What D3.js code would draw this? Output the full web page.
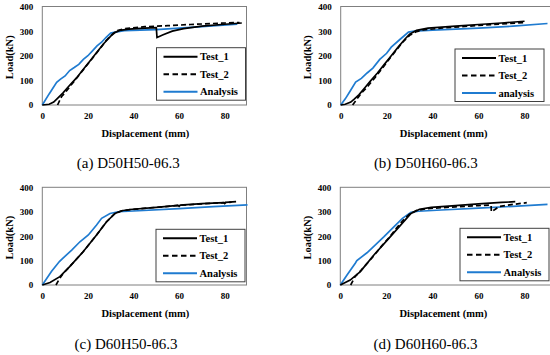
<!DOCTYPE html>
<html>
<head>
<meta charset="utf-8">
<script src="https://cdn.jsdelivr.net/npm/d3@7"></script>
<style>
  body { margin: 0; background: #fff; }
  svg { display: block; }
  .tick text { font-family: "Liberation Serif", "Times New Roman", serif; font-weight: bold; font-size: 9px; fill: #000; }
  .axis-title { font-family: "Liberation Serif", serif; font-weight: bold; font-size: 10.5px; }
  .legend text { font-family: "Liberation Serif", serif; font-weight: bold; font-size: 10.5px; }
  .caption { font-family: "Liberation Serif", serif; font-size: 15px; }
</style>
</head>
<body>
<div id="chart"></div>
<script>
// ticks
var xTicks = [0, 20, 40, 60, 80],
    yTicks = [0, 100, 200, 300, 400];

// (a) D50H50
var aTest1 = [[0,0],[3,3],[5,12],[7,30],[9,48],[12,80],[15,110],[18,145],[21,180],[24,215],[27,250],[30,280],[32,295],[34,303],[38,308],[45,312],[50,314],[50.3,274],[53,285],[57,300],[62,310],[70,320],[80,328],[87.5,333]];
var aTest2 = [[6.7,0],[8.5,35],[10,50],[13,85],[16,120],[19,155],[22,190],[25,225],[28,262],[31,290],[33,302],[36,310],[45,318],[55,322],[65,327],[75,331],[86.5,335]];
var aAnalysis = [[0,0],[3,45],[6.3,92],[8,105],[10,118],[12,140],[14,152],[16,165],[18,185],[20,200],[22,220],[24,240],[26,255],[28,275],[30,292],[32,296],[36,302],[50,306],[60,312],[70,318],[85.5,328]];

// (b) D50H60
var bTest1 = [[0,0],[2,3],[4.4,12],[6,25],[8,42],[10.5,70],[13,98],[16,130],[19,165],[22,200],[25,235],[28,268],[30,288],[33,303],[38,312],[50,320],[60,327],[70,333],[80,340]];
var bTest2 = [[5.2,0],[7.5,30],[9,48],[12,78],[15,112],[18,148],[21,185],[24,220],[27,255],[30,283],[33,298],[36,305],[45,313],[60,323],[70,329],[80,335]];
var bAnalysis = [[0,0],[2,25],[4,55],[6.5,93],[9,108],[11.5,130],[14,150],[17,185],[20,210],[22,235],[26,268],[29.5,296],[32,300],[40,304],[60,312],[75,320],[90,331]];

// (c) D60H50
var cTest1 = [[0,0],[3.4,10],[7.7,34],[12,75],[18,137],[23.8,205],[28.2,259],[31.9,293],[34.8,304],[38.5,309],[50,318],[59.5,326],[60,322],[60.5,327],[70,333],[79.5,337],[80,333],[80.5,338],[85,341]];
var cTest2 = [[6,0],[7.5,25],[9,45],[12,75],[18,137],[23.8,205],[28.2,259],[31.9,293],[35,304],[40,310],[50,318],[60,326],[70,332],[83,339]];
var cAnalysis = [[0,0],[4,55],[7.5,96],[8.5,105],[12.9,143],[16.5,177],[20.2,205],[23.8,246],[26,273],[29.7,293],[33.3,300],[40,303],[60,313],[75,321],[90,328]];

// (d) D60H60
var dTest1 = [[0,0],[4.3,20],[8.7,55],[14.6,123],[20.4,184],[26.3,246],[30.7,293],[34.4,310],[39.5,318],[50,325],[60,332],[70,338],[76,341]];
var dTest2 = [[4.5,0],[6.4,34],[9,60],[12,92],[15,125],[18,160],[21,192],[24,228],[27,262],[30,290],[33,305],[38,313],[50,320],[60,325],[65.5,327],[65.6,300],[67,308],[69,321],[75,330],[81,337]];
var dAnalysis = [[0,0],[3,42],[6.5,89],[7.2,100],[11.6,132],[19,198],[22.6,232],[27,273],[30.7,298],[34,302],[43.9,307],[60,315],[75,322],[90,330]];

var panels = [
  {caption:"(a) D50H50-θ6.3", names:["Test_1","Test_2","Analysis"], t1:aTest1, t2:aTest2, an:aAnalysis,
   x0:42.3, x1:247.5, fr:246.5, y0:105, y1:6.5, lx:156.5, ly:47.7, cx:128.3, cy:167.7},
  {caption:"(b) D50H60-θ6.3", names:["Test_1","Test_2","analysis"], t1:bTest1, t2:bTest2, an:bAnalysis,
   x0:340.7, x1:547.5, fr:552, y0:105, y1:6.5, lx:455, ly:49, cx:425.8, cy:167.7},
  {caption:"(c) D60H50-θ6.3", names:["Test_1","Test_2","Analysis"], t1:cTest1, t2:cTest2, an:cAnalysis,
   x0:42.3, x1:247.5, fr:246.5, y0:285, y1:187.3, lx:156, ly:229.3, cx:126, cy:349.3},
  {caption:"(d) D60H60-θ6.3", names:["Test_1","Test_2","Analysis"], t1:dTest1, t2:dTest2, an:dAnalysis,
   x0:340.3, x1:547.5, fr:552, y0:285, y1:187.3, lx:460, ly:228.3, cx:425.5, cy:349.3}
];

var blue = "#1f7bd0";

var svg = d3.select("#chart").append("svg")
    .attr("width", 550)
    .attr("height", 355);

panels.forEach(function(p){
    var x = d3.scaleLinear().domain([0, 90]).range([p.x0, p.x1]);
    var y = d3.scaleLinear().domain([0, 400]).range([p.y0, p.y1]);

    var g = svg.append("g");

    // plot frame
    g.append("rect")
        .attr("x", p.x0).attr("y", p.y1)
        .attr("width", p.fr - p.x0).attr("height", p.y0 - p.y1)
        .style("fill", "none").style("stroke", "#7f7f7f").style("stroke-width", 1);

    var xAxis = g.append("g")
        .attr("transform", "translate(0," + p.y0 + ")")
        .call(d3.axisBottom(x).tickValues(xTicks).tickSize(0).tickPadding(8));
    xAxis.select(".domain").remove();

    var yAxis = g.append("g")
        .attr("transform", "translate(" + p.x0 + ",0)")
        .call(d3.axisLeft(y).tickValues(yTicks).tickSize(0).tickPadding(9));
    yAxis.select(".domain").remove();

    g.append("text")
        .attr("class", "axis-title")
        .attr("x", p.x0 + 103)
        .attr("y", p.y0 + 31.5)
        .attr("text-anchor", "middle")
        .text("Displacement (mm)");

    g.append("text")
        .attr("class", "axis-title")
        .attr("transform", "translate(" + (p.x0 - 29.5) + "," + ((p.y0 + p.y1) / 2 + 1.5) + ") rotate(-90)")
        .attr("text-anchor", "middle")
        .text("Load(kN)");

    var line = d3.line().x(function(d){ return x(d[0]); }).y(function(d){ return y(d[1]); });

    g.append("path").datum(p.an).attr("d", line)
        .style("fill", "none").style("stroke", blue).style("stroke-width", 1.7);
    g.append("path").datum(p.t2).attr("d", line)
        .style("fill", "none").style("stroke", "#000").style("stroke-width", 1.7)
        .style("stroke-dasharray", "5,3");
    g.append("path").datum(p.t1).attr("d", line)
        .style("fill", "none").style("stroke", "#000").style("stroke-width", 1.7);

    // legend
    var lg = g.append("g").attr("class", "legend")
        .attr("transform", "translate(" + p.lx + "," + p.ly + ")");
    lg.append("rect").attr("width", 89).attr("height", 52.5)
        .style("fill", "#fff").style("stroke", "#404040").style("stroke-width", 1);
    var styles = [{c:"#000", d:null}, {c:"#000", d:"5.5,3.5"}, {c:blue, d:null}];
    p.names.forEach(function(n, i){
        var ry = 9 + i * 17.5;
        lg.append("line").attr("x1", 7).attr("x2", 41).attr("y1", ry).attr("y2", ry)
            .style("stroke", styles[i].c).style("stroke-width", 2)
            .style("stroke-dasharray", styles[i].d);
        lg.append("text").attr("x", 43.5).attr("y", ry + 3.6).text(n);
    });

    g.append("text")
        .attr("class", "caption")
        .attr("x", p.cx).attr("y", p.cy)
        .attr("text-anchor", "middle")
        .text(p.caption);
});
</script>
</body>
</html>
